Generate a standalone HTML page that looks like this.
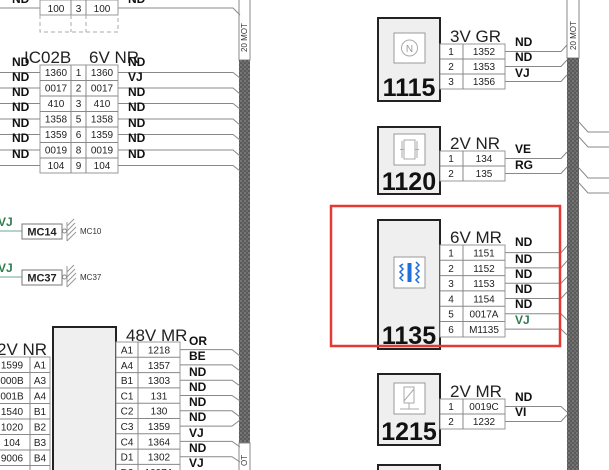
<!DOCTYPE html>
<html><head><meta charset="utf-8"><style>
html,body{margin:0;padding:0;background:#fff;width:609px;height:470px;overflow:hidden}
svg{display:block}
.c{font-family:"Liberation Sans",sans-serif;font-size:10px;fill:#222;text-anchor:middle}
.h{font-family:"Liberation Sans",sans-serif;font-size:17px;fill:#222}
.l{font-family:"Liberation Sans",sans-serif;font-size:12px;font-weight:bold;fill:#111}
.g{fill:#2e7d4f}
.n{font-family:"Liberation Sans",sans-serif;font-size:25px;font-weight:bold;fill:#111;text-anchor:middle}
.t{stroke:#999;stroke-width:1;fill:#fff}
.w{stroke:#888;stroke-width:1;fill:none}
</style></head><body>
<svg width="609" height="470" viewBox="0 0 609 470" xmlns="http://www.w3.org/2000/svg">
<defs>
<pattern id="p" width="4" height="4" patternUnits="userSpaceOnUse">
<rect width="4" height="4" fill="#5a5a5a"/><circle cx="1" cy="1" r="0.9" fill="#8a8a8a"/><circle cx="3" cy="3" r="0.9" fill="#7a7a7a"/>
</pattern>
</defs>

<!-- left bundle -->
<rect x="239" y="-1" width="11" height="61" fill="#fff" stroke="#888"/>
<text x="0" y="0" transform="translate(247,52) rotate(-90)" font-family="Liberation Sans" font-size="8" fill="#333">20 MOT</text>
<rect x="239" y="60" width="11" height="383" fill="url(#p)"/>
<rect x="239" y="443" width="11" height="30" fill="#fff" stroke="#888"/>
<text x="0" y="0" transform="translate(247,466) rotate(-90)" font-family="Liberation Sans" font-size="8" fill="#333">OT</text>

<!-- right bundle -->
<rect x="567" y="-1" width="12" height="59" fill="#fff" stroke="#888"/>
<text x="0" y="0" transform="translate(576,50) rotate(-90)" font-family="Liberation Sans" font-size="8" fill="#333">20 MOT</text>
<rect x="567" y="58" width="12" height="414" fill="url(#p)"/>
<path class="w" d="M579 122 L588 132 H609 M579 137 L588 147 H609 M579 168 L588 178 H609 M579 183 L588 193 H609"/>

<!-- top table -->
<path class="w" d="M0 8 H40 M118 8 H233 L240 15"/>
<rect class="t" x="40" y="0" width="78" height="15"/>
<path class="w" d="M71 0 V15 M86 0 V15"/>
<text class="c" x="56" y="12">100</text><text class="c" x="78.5" y="12">3</text><text class="c" x="102" y="12">100</text>
<path d="M40 15 V32 H118 V15 M71 15 V32 M86 15 V32" stroke="#aaa" stroke-dasharray="4,3" fill="none"/>
<text class="l" x="12" y="3">ND</text><text class="l" x="128" y="3">ND</text>

<!-- IC02B -->
<rect class="t" x="40" y="65" width="78" height="108"/>
<text class="h" x="24" y="63">IC02B</text><text class="h" x="89" y="63">6V NR</text>
<path class="w" d="M40 80.5 H118 M40 96 H118 M40 111.5 H118 M40 127 H118 M40 142.5 H118 M40 158 H118 M71 65 V173 M86 65 V173"/>
<g>
<text class="c" x="56" y="76">1360</text><text class="c" x="78.5" y="76">1</text><text class="c" x="102" y="76">1360</text>
<text class="c" x="56" y="91.5">0017</text><text class="c" x="78.5" y="91.5">2</text><text class="c" x="102" y="91.5">0017</text>
<text class="c" x="56" y="107">410</text><text class="c" x="78.5" y="107">3</text><text class="c" x="102" y="107">410</text>
<text class="c" x="56" y="122.5">1358</text><text class="c" x="78.5" y="122.5">5</text><text class="c" x="102" y="122.5">1358</text>
<text class="c" x="56" y="138">1359</text><text class="c" x="78.5" y="138">6</text><text class="c" x="102" y="138">1359</text>
<text class="c" x="56" y="153.5">0019</text><text class="c" x="78.5" y="153.5">8</text><text class="c" x="102" y="153.5">0019</text>
<text class="c" x="56" y="169">104</text><text class="c" x="78.5" y="169">9</text><text class="c" x="102" y="169">104</text>
</g>
<path class="w" d="M0 72.5 H40 M0 88 H40 M0 103.5 H40 M0 119 H40 M0 134.5 H40 M0 150 H40 M0 165.5 H40"/>
<path class="w" d="M118 72.5 H233 L240 78 M118 88 H233 L240 94 M118 103.5 H233 L240 109 M118 119 H233 L240 125 M118 134.5 H233 L240 140 M118 150 H233 L240 156 M118 165.5 H233 L240 171"/>
<text class="l" x="12" y="66">ND</text><text class="l" x="12" y="81">ND</text><text class="l" x="12" y="96">ND</text><text class="l" x="12" y="111">ND</text><text class="l" x="12" y="127">ND</text><text class="l" x="12" y="142">ND</text><text class="l" x="12" y="158">ND</text>
<text class="l" x="128" y="66">ND</text><text class="l" x="128" y="81">VJ</text><text class="l" x="128" y="96">ND</text><text class="l" x="128" y="111">ND</text><text class="l" x="128" y="127">ND</text><text class="l" x="128" y="142">ND</text><text class="l" x="128" y="158">ND</text>

<!-- MC14 / MC37 -->
<path d="M0 231 H22 M0 277 H22" stroke="#6a9" fill="none"/>
<text class="l g" x="-2" y="226">VJ</text><text class="l g" x="-2" y="272">VJ</text>
<rect x="22" y="224" width="40" height="15" fill="#fff" stroke="#777"/>
<text x="42" y="235.5" font-family="Liberation Sans" font-size="11" font-weight="bold" fill="#222" text-anchor="middle">MC14</text>
<circle cx="64.5" cy="231" r="2" fill="#fff" stroke="#888"/>
<path d="M67 222 V241 M67 226 L74 219 M67 231 L75 223 M67 236 L76 227 M67 241 L76 232" stroke="#999" fill="none"/>
<text x="80" y="234" font-family="Liberation Sans" font-size="8" fill="#333">MC10</text>
<rect x="22" y="270" width="40" height="15" fill="#fff" stroke="#777"/>
<text x="42" y="281.5" font-family="Liberation Sans" font-size="11" font-weight="bold" fill="#222" text-anchor="middle">MC37</text>
<circle cx="64.5" cy="277" r="2" fill="#fff" stroke="#888"/>
<path d="M67 266 V287 M67 272 L74 265 M67 277 L75 269 M67 282 L76 273 M67 287 L76 278" stroke="#999" fill="none"/>
<text x="80" y="280" font-family="Liberation Sans" font-size="8" fill="#333">MC37</text>

<!-- bottom-left module -->
<rect x="53" y="327" width="63" height="150" fill="#efefef" stroke="#222" stroke-width="2"/>
<rect class="t" x="-5" y="357" width="55" height="120"/>
<text class="h" x="-3" y="355">2V NR</text>
<path class="w" d="M-5 372.5 H50 M-5 388 H50 M-5 403.5 H50 M-5 419 H50 M-5 434.5 H50 M-5 450 H50 M-5 465.5 H50 M30 357 V477"/>
<text class="c" x="12" y="368.5">1599</text><text class="c" x="40" y="368.5">A1</text>
<text class="c" x="12" y="384">000B</text><text class="c" x="40" y="384">A3</text>
<text class="c" x="12" y="399.5">001B</text><text class="c" x="40" y="399.5">A4</text>
<text class="c" x="12" y="415">1540</text><text class="c" x="40" y="415">B1</text>
<text class="c" x="12" y="430.5">1020</text><text class="c" x="40" y="430.5">B2</text>
<text class="c" x="12" y="446">104</text><text class="c" x="40" y="446">B3</text>
<text class="c" x="12" y="461.5">9006</text><text class="c" x="40" y="461.5">B4</text>
<text class="c" x="12" y="477">1550</text><text class="c" x="40" y="477">C1</text>

<rect class="t" x="116" y="342" width="64" height="140"/>
<text class="h" x="126" y="341">48V MR</text>
<path class="w" d="M116 357.3 H180 M116 372.6 H180 M116 387.9 H180 M116 403.2 H180 M116 418.5 H180 M116 433.8 H180 M116 449.1 H180 M116 464.4 H180 M138 342 V482"/>
<text class="c" x="127" y="353.5">A1</text><text class="c" x="159" y="353.5">1218</text>
<text class="c" x="127" y="368.8">A4</text><text class="c" x="159" y="368.8">1357</text>
<text class="c" x="127" y="384.1">B1</text><text class="c" x="159" y="384.1">1303</text>
<text class="c" x="127" y="399.4">C1</text><text class="c" x="159" y="399.4">131</text>
<text class="c" x="127" y="414.7">C2</text><text class="c" x="159" y="414.7">130</text>
<text class="c" x="127" y="430">C3</text><text class="c" x="159" y="430">1359</text>
<text class="c" x="127" y="445.3">C4</text><text class="c" x="159" y="445.3">1364</text>
<text class="c" x="127" y="460.6">D1</text><text class="c" x="159" y="460.6">1302</text>
<text class="c" x="127" y="475.9">D2</text><text class="c" x="159" y="475.9">1097A</text>
<path class="w" d="M180 349.6 H232 L240 356 M180 364.9 H232 L240 371 M180 380.2 H232 L240 386 M180 395.5 H232 L240 401 M180 410.8 H232 L240 417 M180 426.1 H232 L240 420 M180 441.4 H232 L240 447 M180 456.7 H232 L240 462"/>
<text class="l" x="189" y="345">OR</text><text class="l" x="189" y="360">BE</text><text class="l" x="189" y="376">ND</text><text class="l" x="189" y="391">ND</text><text class="l" x="189" y="406">ND</text><text class="l" x="189" y="421">ND</text><text class="l" x="189" y="437">VJ</text><text class="l" x="189" y="452">ND</text><text class="l" x="189" y="467">VJ</text>

<!-- 1115 -->
<rect x="378" y="18" width="62" height="83" fill="#efefef" stroke="#222" stroke-width="2"/>
<rect x="394" y="33" width="31" height="30" fill="#fff" stroke="#999"/>
<circle cx="409.5" cy="48" r="8" fill="none" stroke="#aaa"/>
<text x="409.5" y="52" font-family="Liberation Sans" font-size="10" fill="#999" text-anchor="middle">N</text>
<text class="n" x="409" y="96">1115</text>
<rect class="t" x="440" y="44" width="65" height="45"/>
<text class="h" x="450" y="42">3V GR</text>
<path class="w" d="M440 59 H505 M440 74 H505 M463 44 V89"/>
<text class="c" x="451" y="55">1</text><text class="c" x="484" y="55">1352</text>
<text class="c" x="451" y="70">2</text><text class="c" x="484" y="70">1353</text>
<text class="c" x="451" y="85">3</text><text class="c" x="484" y="85">1356</text>
<path class="w" d="M505 51.5 H561 L567 45 M505 66.5 H561 L567 60 M505 81.5 H561 L567 75"/>
<text class="l" x="515" y="46">ND</text><text class="l" x="515" y="61">ND</text><text class="l" x="515" y="77">VJ</text>

<!-- 1120 -->
<rect x="378" y="127" width="62" height="67" fill="#efefef" stroke="#222" stroke-width="2"/>
<rect x="394" y="134" width="31" height="31" fill="#fff" stroke="#999"/>
<rect x="404" y="140" width="11" height="19" fill="none" stroke="#aaa"/>
<path d="M400 149.5 H404 M415 149.5 H419 M402 141 V158 M417 141 V158" stroke="#aaa"/>
<text class="n" x="409" y="190">1120</text>
<rect class="t" x="440" y="151" width="65" height="30"/>
<text class="h" x="450" y="149">2V NR</text>
<path class="w" d="M440 166 H505 M463 151 V181"/>
<text class="c" x="451" y="162">1</text><text class="c" x="484" y="162">134</text>
<text class="c" x="451" y="177">2</text><text class="c" x="484" y="177">135</text>
<path class="w" d="M505 158.5 H561 L567 152 M505 173.5 H561 L567 167"/>
<text class="l" x="515" y="153">VE</text><text class="l" x="515" y="169">RG</text>

<!-- 1135 -->
<rect x="378" y="220" width="62" height="129" fill="#efefef" stroke="#222" stroke-width="2"/>
<rect x="394" y="257" width="31" height="31" fill="#fff" stroke="#999"/>
<rect x="407.5" y="263" width="4" height="19" fill="#1e6fd9"/>
<path d="M403 264 L400 266 L403 269 L400 272 L403 275 L400 278 L403 281 M416 262 L419 265 L416 268 L419 271 L416 274 L419 277 L416 280 L419 283" stroke="#1e6fd9" stroke-width="1.5" fill="none"/>
<text class="n" x="409" y="344">1135</text>
<rect class="t" x="440" y="245" width="65" height="92"/>
<text class="h" x="450" y="243">6V MR</text>
<path class="w" d="M440 260.3 H505 M440 275.6 H505 M440 290.9 H505 M440 306.2 H505 M440 321.5 H505 M463 245 V337"/>
<text class="c" x="451" y="256.5">1</text><text class="c" x="484" y="256.5">1151</text>
<text class="c" x="451" y="271.8">2</text><text class="c" x="484" y="271.8">1152</text>
<text class="c" x="451" y="287.1">3</text><text class="c" x="484" y="287.1">1153</text>
<text class="c" x="451" y="302.4">4</text><text class="c" x="484" y="302.4">1154</text>
<text class="c" x="451" y="317.7">5</text><text class="c" x="484" y="317.7">0017A</text>
<text class="c" x="451" y="333">6</text><text class="c" x="484" y="333">M1135</text>
<path class="w" d="M505 252.6 H561 L567 246 M505 267.9 H561 L567 261 M505 283.2 H561 L567 277 M505 298.5 H561 L567 292 M505 313.8 H561 L567 320 M505 329.1 H561 L567 335"/>
<text class="l" x="515" y="246">ND</text><text class="l" x="515" y="263">ND</text><text class="l" x="515" y="278">ND</text><text class="l" x="515" y="293">ND</text><text class="l" x="515" y="308">ND</text><text class="l g" x="515" y="324">VJ</text>
<rect x="331" y="206" width="229" height="140" fill="none" stroke="#e53935" stroke-width="2.5"/>

<!-- 1215 -->
<rect x="378" y="374" width="62" height="71" fill="#efefef" stroke="#222" stroke-width="2"/>
<rect x="394" y="383" width="31" height="31" fill="#fff" stroke="#999"/>
<rect x="404" y="387" width="10" height="16" fill="none" stroke="#aaa"/>
<path d="M404 401 L414 389 M409 403 V409 M400 409 H419" stroke="#aaa" fill="none"/>
<text class="n" x="409" y="440">1215</text>
<rect class="t" x="440" y="399" width="65" height="30"/>
<text class="h" x="450" y="397">2V MR</text>
<path class="w" d="M440 414 H505 M463 399 V429"/>
<text class="c" x="451" y="410">1</text><text class="c" x="484" y="410">0019C</text>
<text class="c" x="451" y="425">2</text><text class="c" x="484" y="425">1232</text>
<path class="w" d="M505 406.5 H561 L567 412 M505 421.5 H561 L567 415"/>
<text class="l" x="515" y="401">ND</text><text class="l" x="515" y="416">VI</text>

<rect x="378" y="465" width="62" height="20" fill="#efefef" stroke="#222" stroke-width="2"/>
</svg>
</body></html>
